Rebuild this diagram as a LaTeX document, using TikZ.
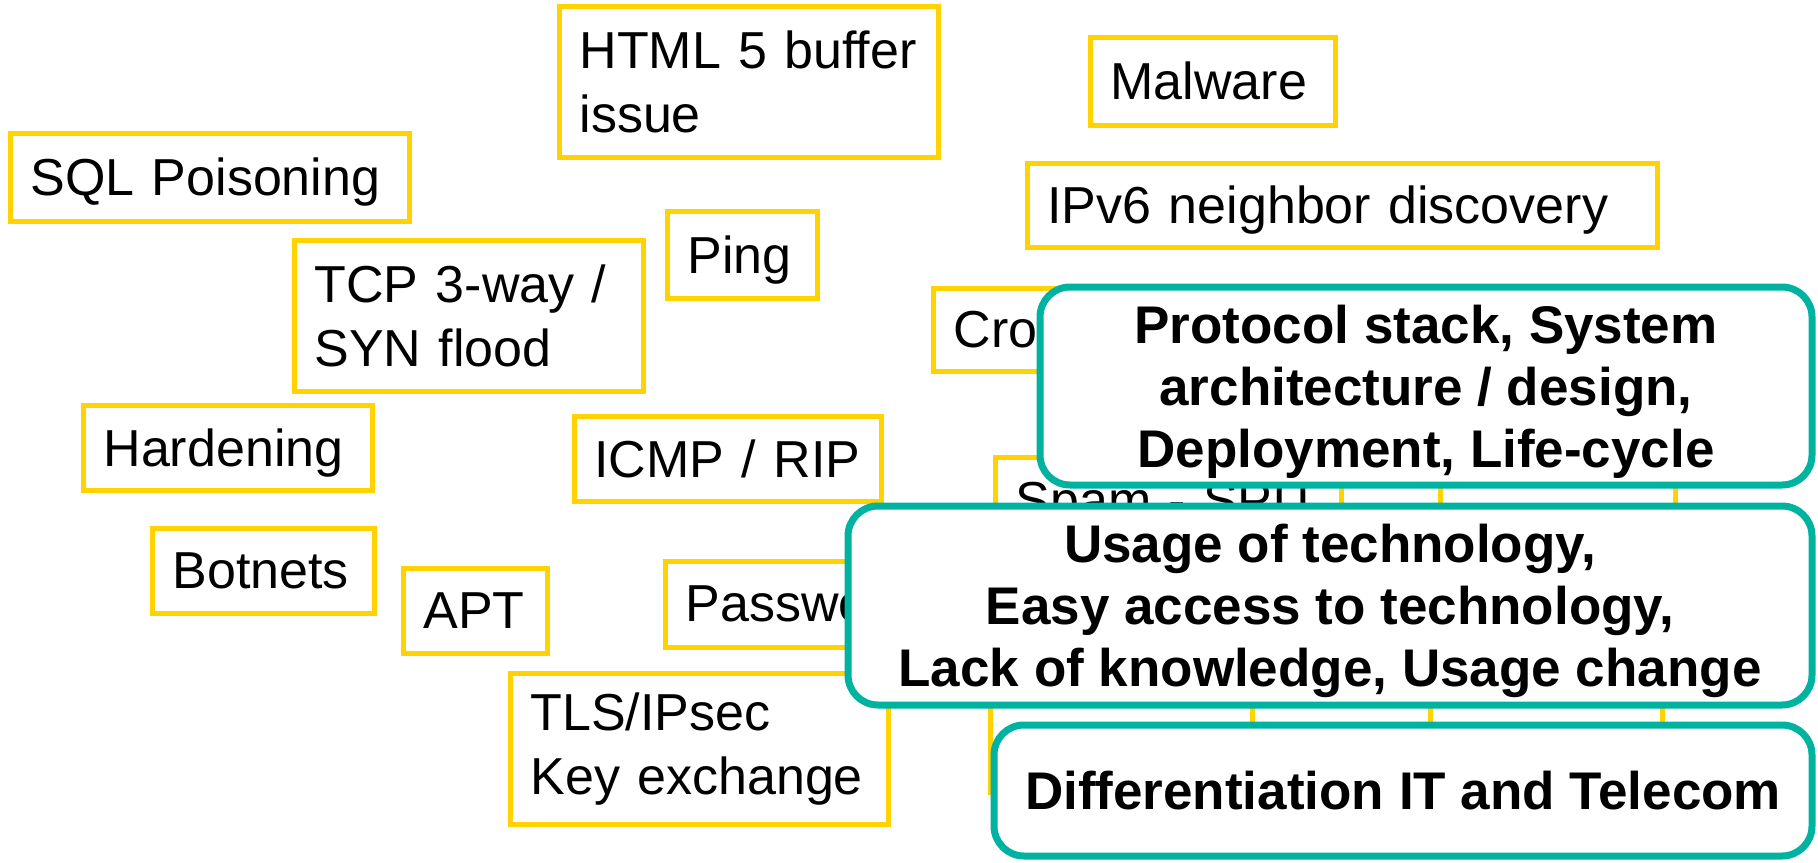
\documentclass[tikz,border=0pt]{standalone}
\usepackage{fontspec}
\setmainfont{Liberation Sans}
\definecolor{tagyellow}{HTML}{FFD200}
\definecolor{keyteal}{HTML}{00B2A0}

\begin{document}
\begin{tikzpicture}[x=0.5pt, y=-0.5pt,
    tag/.style={draw=tagyellow, line width=2.5pt, fill=white, anchor=west,
        align=left, inner xsep=10pt, inner ysep=0pt,
        font=\fontsize{26}{32}\selectfont},
    oneline/.style={tag, text depth=0pt},
    cause/.style={draw=keyteal, line width=3.5pt, fill=white,
        rounded corners=15pt, align=center, inner sep=0pt, text depth=0pt,
        font=\fontsize{26.5}{31}\selectfont\bfseries}]
    \useasboundingbox (0,0) rectangle (1818,862);

    % Einzelne Angriffe / Themen (gelb)
    \node[tag, text width=169.5pt, minimum height=75.5pt] (html) at (557,81.5) {HTML 5 buffer\\issue};
    \node[oneline, text width=102.5pt, minimum height=44pt] (malware) at (1088,81) {Malware};
    \node[oneline, text width=179.5pt, minimum height=44pt] (sql) at (8,177) {SQL Poisoning};
    \node[oneline, text width=295pt, minimum height=42pt] (ipv6) at (1025,205) {IPv6 neighbor discovery};
    \node[oneline, text width=55pt, minimum height=43.5pt] (ping) at (665,254.5) {Ping};
    \node[tag, text width=154.5pt, minimum height=75.5pt] (tcp) at (292,315.5) {TCP 3-way /\\SYN flood};
    \node[oneline, text width=69.5pt, minimum height=41.5pt] (cross) at (931,329.5) {Cro};
    \node[oneline, text width=124.5pt, minimum height=42.5pt] (harden) at (81,447.5) {Hardening};
    \node[oneline, text width=133.5pt, minimum height=42.5pt] (icmp) at (572,458.5) {ICMP / RIP};
    \node[oneline, text width=153pt, minimum height=43pt] (spam) at (993,500) {Spam - SPIT};
    \node[tag, text width=97.5pt, minimum height=52.5pt] (hiddenA) at (1438,492.5) {};
    \node[oneline, text width=91pt, minimum height=42.5pt] (botnets) at (150,570.5) {Botnets};
    \node[oneline, text width=52pt, minimum height=42.5pt] (apt) at (401,610.5) {APT};
    \node[oneline, text width=98.5pt, minimum height=43pt] (passwd) at (663,604) {Passwo};
    \node[tag, text width=169pt, minimum height=75.5pt] (tls) at (508,749) {TLS/IPsec\\Key exchange};
    \node[tag, text width=111pt, minimum height=96pt] (hiddenB) at (988,696) {};
    \node[tag, text width=96pt, minimum height=70pt] (hiddenC) at (1428,710) {};

    % Ursachen (Rahmen in Teal, liegen darueber)
    \node[cause, minimum width=386pt, minimum height=99pt] (stack) at (1426,386)
        {Protocol stack, System\\architecture / design,\\Deployment, Life-cycle};
    \node[cause, minimum width=482pt, minimum height=99.5pt] (usage) at (1330,605.5)
        {Usage of technology,\\Easy access to technology,\\Lack of knowledge, Usage change};
    \node[cause, minimum width=409pt, minimum height=65.5pt] (itvstel) at (1403,790.5)
        {Differentiation IT and Telecom};
\end{tikzpicture}
\end{document}
